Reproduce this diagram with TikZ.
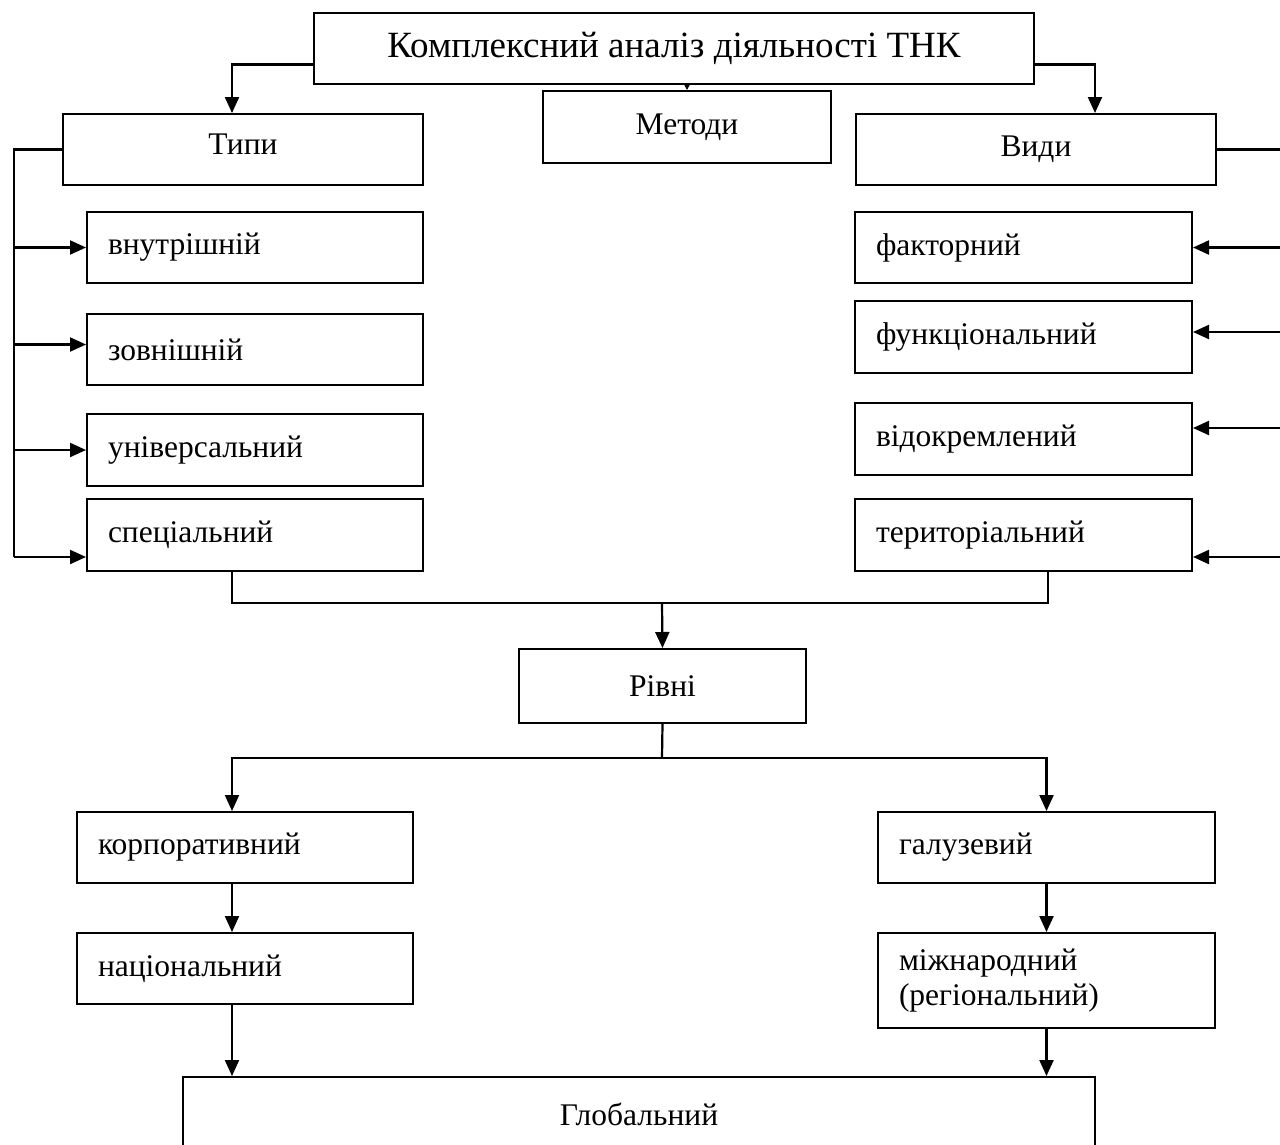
\documentclass[tikz,border=0pt]{standalone}
\usepackage{fontspec}
\setmainfont{Liberation Serif}
\usetikzlibrary{arrows.meta,calc}

\begin{document}
\begin{tikzpicture}[x=1pt,y=-1pt,
  box/.style={draw, line width=2pt, inner sep=0pt, anchor=north west,
    font=\fontsize{31.5}{35}\selectfont},
  lbox/.style={box, align=left, inner xsep=21pt},
  link/.style={line width=2.2pt},
  arr/.style={link, -{Triangle[length=16pt,width=14pt]}},
  tinyarr/.style={line width=1pt, -{Triangle[length=5pt,width=5pt]}}]

\useasboundingbox (0,0) rectangle (1280,1144);
\clip (0,0) rectangle (1280,1144);

% top level
\node[box, font=\fontsize{37}{42}\selectfont, minimum width=720pt, minimum height=71pt]
  (title) at (313,12) {Комплексний аналіз діяльності ТНК};
\node[box, minimum width=288pt, minimum height=72pt] (metody) at (542,90) {Методи};
\node[box, minimum width=360pt, minimum height=71pt, text depth=11pt] (typy) at (62,113) {Типи};
\node[box, minimum width=360pt, minimum height=71pt] (vydy) at (855,113) {Види};

% types
\node[lbox, text width=294pt, minimum width=336pt, minimum height=71pt] (vn) at (86,211) {внутрішній};
\node[lbox, text width=294pt, minimum width=336pt, minimum height=71pt] (zov) at (86,313) {зовнішній};
\node[lbox, text width=294pt, minimum width=336pt, minimum height=72pt] (univ) at (86,413) {універсальний};
\node[lbox, text width=294pt, minimum width=336pt, minimum height=72pt] (spec) at (86,498) {спеціальний};

% kinds
\node[lbox, text width=295pt, minimum width=337pt, minimum height=71pt] (fakt) at (854,211) {факторний};
\node[lbox, text width=295pt, minimum width=337pt, minimum height=72pt] (funk) at (854,300) {функціональний};
\node[lbox, text width=295pt, minimum width=337pt, minimum height=72pt] (vidok) at (854,402) {відокремлений};
\node[lbox, text width=295pt, minimum width=337pt, minimum height=72pt] (ter) at (854,498) {територіальний};

% levels
\node[box, minimum width=287pt, minimum height=74pt] (rivni) at (518,648) {Рівні};
\node[lbox, text width=294pt, minimum width=336pt, minimum height=71pt] (korp) at (76,811) {корпоративний};
\node[lbox, text width=294pt, minimum width=336pt, minimum height=71pt] (nac) at (76,932) {національний};
\node[lbox, text width=295pt, minimum width=337pt, minimum height=71pt] (galuz) at (877,811) {галузевий};
\node[lbox, text width=295pt, minimum width=337pt, minimum height=95pt] (mizh) at (877,932) {міжнародний\\(регіональний)};
\node[box, minimum width=912pt, minimum height=74pt] (glob) at (182,1076) {Глобальний};

% title to the three groups
\draw[arr] ([yshift=-16pt]title.west) -| ([xshift=-11pt]typy.north);
\draw[arr] ([yshift=-16pt]title.east) -| ([xshift=59pt]vydy.north);
\draw[tinyarr] (title.south -| metody.north) -- (metody.north);

% left bus
\coordinate (lbus) at (14,557);
\draw[link] (typy.west) -| (lbus);
\draw[arr] (lbus |- vn.west) -- (vn.west);
\draw[arr] ([yshift=5pt]lbus |- zov.west) -- ([yshift=5pt]zov.west);
\draw[arr] (lbus |- univ.west) -- (univ.west);
\draw[arr] (lbus) -- (lbus -| spec.west);

% right bus
\coordinate (rbus) at (1283,557);
\draw[link] (vydy.east) -| (rbus);
\draw[arr] (rbus |- fakt.east) -- (fakt.east);
\draw[arr] ([yshift=5pt]rbus |- funk.east) -- ([yshift=5pt]funk.east);
\draw[arr] ([yshift=11pt]rbus |- vidok.east) -- ([yshift=11pt]vidok.east);
\draw[arr] (rbus) -- (rbus -| ter.east);

% join into levels
\coordinate (j) at (662,603);
\draw[link] ([xshift=-23pt]spec.south) |- (j) -| ([xshift=24.5pt]ter.south);
\draw[arr] (j) -- (rivni.north);

% split of levels
\coordinate (k) at (662,758);
\draw[link] (rivni.south) -- (k);
\draw[arr] (k) -| ([xshift=-13pt]korp.north);
\draw[arr] (k) -| (galuz.north);
\draw[arr] ([xshift=-13pt]korp.south) -- ([xshift=-13pt]nac.north);
\draw[arr] (galuz.south) -- (mizh.north);
\coordinate (nx) at ([xshift=-13pt]nac.south);
\draw[arr] (nx) -- (nx |- glob.north);
\draw[arr] (mizh.south) -- (mizh.south |- glob.north);

\end{tikzpicture}
\end{document}
